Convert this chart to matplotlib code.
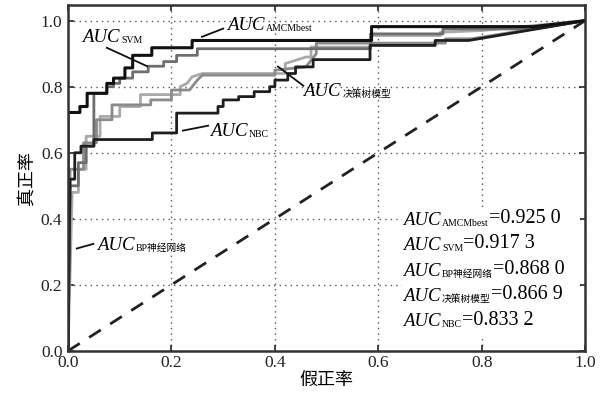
import matplotlib
matplotlib.use("Agg")
import matplotlib.pyplot as plt
from matplotlib.patches import Rectangle

# ---------------- data ----------------
amcm_x = [0, 0, 0.023, 0.023, 0.037, 0.037, 0.075, 0.075, 0.088, 0.088, 0.11, 0.11, 0.125, 0.125,
          0.162, 0.162, 0.24, 0.24, 0.587, 0.587, 0.90, 1.0]
amcm_y = [0, 0.722, 0.722, 0.74, 0.74, 0.78, 0.78, 0.81, 0.81, 0.826, 0.826, 0.857, 0.857, 0.895,
          0.895, 0.918, 0.918, 0.94, 0.94, 0.982, 0.982, 1.0]

svm_x = [0, 0.004, 0.02, 0.02, 0.035, 0.035, 0.05, 0.05, 0.075, 0.075, 0.088, 0.088, 0.10, 0.10,
         0.125, 0.125, 0.155, 0.155, 0.185, 0.185, 0.21, 0.21, 0.25, 0.25, 0.585, 0.585, 0.725,
         0.725, 0.90, 1.0]
svm_y = [0, 0.50, 0.50, 0.57, 0.57, 0.62, 0.62, 0.78, 0.78, 0.80, 0.80, 0.81, 0.81, 0.826,
         0.826, 0.845, 0.845, 0.862, 0.862, 0.876, 0.876, 0.895, 0.895, 0.915, 0.915, 0.96, 0.96,
         0.975, 0.975, 1.0]

bp_x = [0, 0.008, 0.02, 0.02, 0.035, 0.035, 0.062, 0.062, 0.10, 0.10, 0.14, 0.14, 0.217, 0.217,
        0.23, 0.24, 0.26, 0.42, 0.42, 0.46, 0.47, 0.47, 0.585, 0.585, 0.72, 0.72, 0.80, 1.0]
bp_y = [0, 0.48, 0.48, 0.55, 0.55, 0.65, 0.65, 0.71, 0.71, 0.74, 0.74, 0.776, 0.776, 0.80,
        0.81, 0.83, 0.84, 0.84, 0.87, 0.89, 0.89, 0.92, 0.92, 0.955, 0.955, 0.965, 0.97, 1.0]

dt_x = [0, 0.004, 0.03, 0.03, 0.055, 0.055, 0.085, 0.085, 0.16, 0.16, 0.20, 0.20, 0.235, 0.25,
        0.26, 0.40, 0.40, 0.46, 0.47, 0.48, 0.48, 0.73, 0.73, 0.78, 1.0]
dt_y = [0, 0.55, 0.55, 0.63, 0.63, 0.70, 0.70, 0.745, 0.745, 0.76, 0.76, 0.79, 0.79, 0.82,
        0.835, 0.835, 0.85, 0.86, 0.88, 0.90, 0.932, 0.932, 0.945, 0.945, 1.0]

nbc_x = [0, 0.004, 0.013, 0.013, 0.025, 0.025, 0.05, 0.05, 0.163, 0.163, 0.21, 0.21, 0.29, 0.29,
         0.30, 0.30, 0.33, 0.33, 0.36, 0.36, 0.39, 0.39, 0.40, 0.40, 0.425, 0.425, 0.44, 0.44,
         0.474, 0.474, 0.584, 0.584, 0.71, 0.71, 0.775, 1.0]
nbc_y = [0, 0.52, 0.52, 0.60, 0.60, 0.62, 0.62, 0.64, 0.64, 0.66, 0.66, 0.72, 0.72, 0.74,
         0.74, 0.76, 0.76, 0.77, 0.77, 0.785, 0.785, 0.80, 0.80, 0.82, 0.82, 0.84, 0.84, 0.86,
         0.86, 0.882, 0.882, 0.925, 0.925, 0.94, 0.94, 1.0]

diag = [0, 1]

ticks = [0.0, 0.2, 0.4, 0.6, 0.8, 1.0]
tick_labels = ["0.0", "0.2", "0.4", "0.6", "0.8", "1.0"]

auc_subs = ["AMCMbest", "SVM", "BP神经网络", "决策树模型", "NBC"]
auc_vals = ["=0.925 0", "=0.917 3", "=0.868 0", "=0.866 9", "=0.833 2"]

# ---------------- figure ----------------
SERIF = ["Liberation Serif", "Noto Sans CJK SC", "DejaVu Sans"]
CJK = ["Noto Sans CJK SC", "DejaVu Sans"]

fig = plt.figure(figsize=(6.02, 4.01), dpi=100)
ax = fig.add_axes([0.113, 0.125, 0.859, 0.863])

ax.set_xlim(0, 1)
ax.set_ylim(0, 1.048)
ax.set_xticks(ticks)
ax.set_yticks(ticks)
ax.set_xticklabels(tick_labels, family=SERIF, fontsize=12.5)
ax.set_yticklabels(tick_labels, family=SERIF, fontsize=12.5)
ax.tick_params(direction="in", length=4, width=1.2, top=True, right=True, colors="#222222")
ax.tick_params(axis="x", pad=3)
ax.tick_params(axis="y", pad=4)
ax.grid(True, linestyle=(0, (1, 3)), color="#555555", linewidth=1.0)
for s in ax.spines.values():
    s.set_linewidth(1.8)
    s.set_color("#333333")

ax.plot(diag, diag, color="#222222", lw=2.0, linestyle=(0, (5, 4)))
ax.plot(bp_x, bp_y, color="#a9a9a9", lw=2.0)
ax.plot(dt_x, dt_y, color="#8a8a8a", lw=2.0)
ax.plot(svm_x, svm_y, color="#6e6e6e", lw=2.0)
ax.plot(nbc_x, nbc_y, color="#1e1e1e", lw=2.0)
ax.plot(amcm_x, amcm_y, color="#111111", lw=2.2)

ax.set_xlabel("假正率", family=CJK, fontsize=13, labelpad=0)
ax.set_ylabel("真正率", family=CJK, fontsize=13, labelpad=3)


def auc_label(x, y, sub, tail=None, size=13.5, subsize=7, tailsize=14.5, zorder=5):
    t = ax.text(x, y, "AUC", fontsize=size, family=SERIF, style="italic",
                va="baseline", ha="left", zorder=zorder)
    s = ax.annotate(sub, xy=(1, 0), xycoords=t, xytext=(1, 0.5), textcoords="offset points",
                    fontsize=subsize, family=SERIF, va="bottom", ha="left", zorder=zorder)
    if tail is not None:
        ax.annotate(tail, xy=(1, 0), xycoords=(s, t), xytext=(0, 0.3), textcoords="offset points",
                    fontsize=tailsize, family=SERIF, va="bottom", ha="left", zorder=zorder)
    return t


# curve labels with leader lines
auc_label(0.307, 0.972, "AMCMbest")
ax.plot([0.259, 0.30], [0.951, 0.976], color="#111111", lw=1.3)

auc_label(0.028, 0.935, "SVM")
ax.plot([0.075, 0.153], [0.918, 0.862], color="#111111", lw=1.3)

auc_label(0.455, 0.772, "决策树模型")
ax.plot([0.406, 0.455], [0.861, 0.803], color="#111111", lw=1.3)

auc_label(0.275, 0.652, "NBC")
ax.plot([0.222, 0.271], [0.667, 0.682], color="#111111", lw=1.3)

auc_label(0.056, 0.305, "BP神经网络")
ax.plot([0.017, 0.049], [0.31, 0.324], color="#111111", lw=1.3)

# AUC value box
ax.add_patch(Rectangle((0.645, 0.045), 0.345, 0.39, transform=ax.transData,
                       facecolor="white", edgecolor="none", zorder=4))
ys = [0.382, 0.306, 0.228, 0.152, 0.075]
for yy, sub, val in zip(ys, auc_subs, auc_vals):
    auc_label(0.648, yy, sub, tail=val)

fig.savefig("out.png", dpi=100, facecolor="white")
